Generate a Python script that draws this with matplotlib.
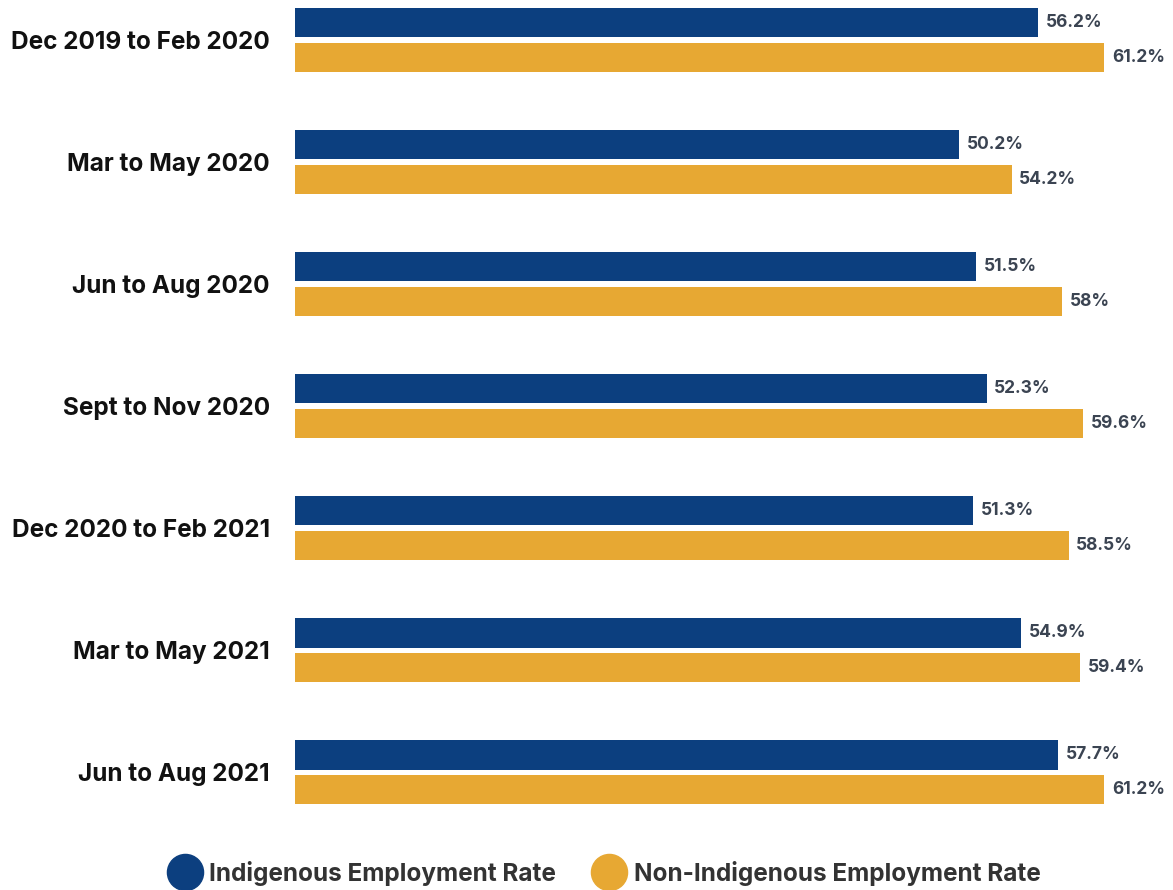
# employment rate bars, indigenous vs non-indigenous

import numpy as np
import matplotlib.pyplot as plt
from matplotlib.lines import Line2D

plt.rcParams['font.family'] = ['Inter', 'DejaVu Sans']

periods = ['Dec 2019 to Feb 2020', 'Mar to May 2020', 'Jun to Aug 2020',
           'Sept to Nov 2020', 'Dec 2020 to Feb 2021', 'Mar to May 2021',
           'Jun to Aug 2021']
indigenous = [56.2, 50.2, 51.5, 52.3, 51.3, 54.9, 57.7]
non_indigenous = [61.2, 54.2, 58.0, 59.6, 58.5, 59.4, 61.2]
series_names = ['Indigenous Employment Rate', 'Non-Indigenous Employment Rate']

blue = '#0C3F7F'
yellow = '#E7A833'

fig = plt.figure(figsize=(11.73, 8.9), dpi=100)
left = 295 / 1173
ax = fig.add_axes([left, 70 / 890, 1 - left, 820 / 890])

y = np.arange(len(periods))
off = 0.143
h = 0.24
b1 = ax.barh(y - off, indigenous, height=h, color=blue)
b2 = ax.barh(y + off, non_indigenous, height=h, color=yellow)

def fmt(v):
    return '{:g}%'.format(v)

for bars, vals in [(b1, indigenous), (b2, non_indigenous)]:
    for bar, v in zip(bars, vals):
        ax.annotate(fmt(v), (v, bar.get_y() + bar.get_height() / 2),
                    xytext=(5.5, 0), textcoords='offset points',
                    va='center', ha='left', fontsize=12.5,
                    fontweight='bold', color='#3B4452')

ax.set_xlim(0, 66.4)
ax.set_ylim(6.39, -0.328)
ax.set_yticks(y)
ax.set_yticklabels(periods, fontsize=17.5, fontweight='bold', color='#111111')
ax.tick_params(axis='y', length=0, pad=18)
ax.set_xticks([])
for s in ax.spines.values():
    s.set_visible(False)

handles = [Line2D([], [], marker='o', linestyle='none', markersize=26,
                  markerfacecolor=c, markeredgecolor=c) for c in (blue, yellow)]
leg = fig.legend(handles, series_names, loc='center', ncol=2,
                 bbox_to_anchor=(0.516, 17 / 890), frameon=False,
                 prop={'size': 17.5, 'weight': 'bold'},
                 handletextpad=0.4, columnspacing=1.6, handlelength=1.2)
for t in leg.get_texts():
    t.set_color('#333333')

fig.savefig('out.png', dpi=100)
